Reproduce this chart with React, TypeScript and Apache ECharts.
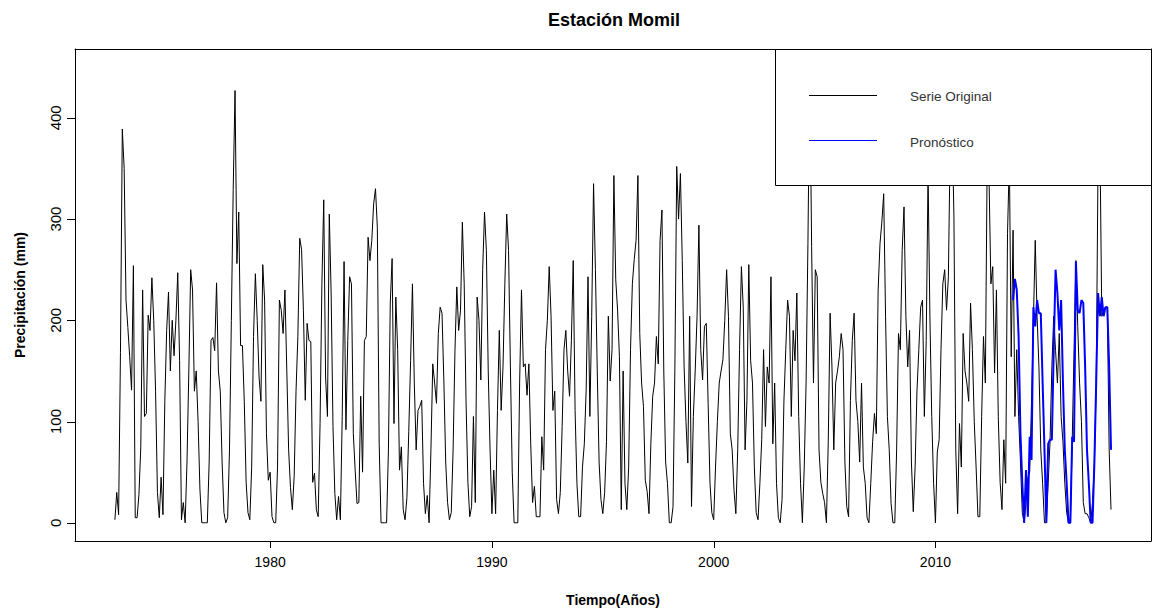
import React, { useEffect, useRef } from "react";
import * as echarts from "echarts";

// Monthly precipitation (mm), Estación Momil, Jan 1973 – Dec 2017
const START_YEAR = 1973;
const serie1973_1979: number[] = [
  3, 30, 8, 168, 389, 350, 220, 193, 164, 131, 254, 5,
  5, 28, 75, 230, 105, 108, 205, 190, 242, 200, 130, 30,
  5, 45, 8, 120, 190, 228, 150, 200, 165, 200, 247, 160,
  3, 20, 0, 60, 150, 250, 230, 130, 150, 100, 33, 0,
  0, 0, 0, 60, 180, 183, 170, 237, 150, 130, 60, 10,
  0, 5, 72, 200, 329, 427, 256, 307, 175, 175, 120, 40,
  10, 3, 55, 184, 246, 200, 144, 120, 255, 220, 88, 42,
];
const serie1980_1989: number[] = [
  50, 6, 0, 0, 55, 220, 210, 187, 230, 151, 72, 35,
  13, 46, 130, 184, 281, 270, 210, 121, 197, 180, 179, 40,
  49, 13, 6, 98, 236, 319, 144, 105, 305, 227, 95, 29,
  3, 26, 3, 105, 258, 92, 180, 243, 236, 88, 52, 19,
  20, 125, 50, 180, 184, 282, 259, 279, 315, 330, 292, 78,
  0, 0, 0, 0, 72, 217, 261, 98, 223, 171, 52, 75,
  13, 3, 25, 90, 160, 236, 138, 72, 111, 115, 121, 39,
  9, 27, 0, 72, 157, 138, 118, 187, 213, 207, 140, 60,
  20, 3, 10, 72, 170, 233, 190, 210, 297, 236, 120, 40,
  6, 16, 105, 20, 223, 200, 141, 250, 307, 269, 150, 72,
];
const serie1990_1999: number[] = [
  9, 52, 9, 111, 190, 111, 154, 236, 305, 269, 154, 50,
  0, 0, 0, 138, 230, 154, 157, 126, 157, 78, 20, 36,
  6, 6, 6, 85, 52, 171, 200, 253, 204, 111, 130, 23,
  9, 30, 95, 171, 190, 150, 125, 180, 259, 111, 39, 6,
  6, 55, 78, 131, 243, 105, 204, 335, 250, 150, 60, 23,
  9, 30, 80, 204, 140, 171, 343, 240, 210, 164, 13, 150,
  39, 13, 55, 171, 236, 260, 279, 343, 187, 138, 115, 42,
  31, 9, 78, 125, 138, 184, 157, 279, 309, 150, 60, 39,
  0, 0, 16, 151, 352, 300, 345, 259, 154, 100, 59, 204,
  16, 105, 150, 204, 294, 171, 141, 194, 197, 118, 39, 10,
];
const serie2000_2009: number[] = [
  3, 55, 100, 138, 150, 161, 200, 250, 204, 88, 72, 32,
  9, 72, 171, 253, 213, 72, 121, 255, 160, 138, 55, 10,
  3, 39, 82, 171, 95, 154, 138, 243, 78, 138, 39, 5,
  0, 23, 120, 171, 220, 204, 105, 190, 160, 227, 105, 39,
  0, 55, 138, 276, 450, 273, 138, 250, 243, 72, 40, 29,
  20, 0, 80, 207, 154, 72, 138, 150, 164, 187, 171, 60,
  16, 6, 121, 180, 207, 121, 100, 60, 138, 55, 39, 5,
  0, 39, 80, 108, 88, 230, 276, 297, 325, 204, 105, 72,
  19, 0, 0, 72, 187, 171, 269, 312, 204, 154, 190, 60,
  11, 55, 130, 171, 213, 220, 105, 180, 345, 204, 105, 39,
];
const serie2010_2017: number[] = [
  0, 70, 82, 171, 236, 250, 210, 243, 380, 400, 302, 72,
  9, 98, 55, 187, 150, 138, 120, 217, 171, 100, 55, 6,
  6, 105, 184, 138, 360, 340, 236, 253, 148, 230, 105, 40,
  13, 82, 39, 286, 360, 164, 289, 105, 171, 105, 60, 10,
  0, 20, 45, 50, 120, 200, 279, 204, 154, 72, 39, 0,
  0, 39, 80, 154, 204, 170, 138, 187, 105, 80, 39, 10,
  0, 0, 80, 171, 259, 194, 138, 100, 20, 9, 9, 5,
  0, 20, 59, 138, 360, 380, 204, 210, 213, 213, 72, 13,
];

// Forecast, Jul 2013 – Dec 2017
const FORECAST_START = 2013 + 6 / 12;
const pronostico: number[] = [
  220, 241, 230, 184, 88, 39,
  0, 52, 6, 85, 62, 213, 194, 220, 207, 207, 138, 72,
  0, 78, 82, 82, 171, 250, 227, 190, 220, 138, 72, 39,
  0, 0, 85, 80, 258, 210, 207, 220, 217, 154, 72, 39,
  0, 0, 59, 140, 227, 204, 223, 204, 213, 213, 154, 72,
];

const xTicks = [1980, 1990, 2000, 2010];
const yTicks = [0, 100, 200, 300, 400];

const X_MIN = 1971.2;
const X_MAX = 2019.72;
const Y_MIN = -18;
const Y_MAX = 468;

const FONT = "'Liberation Sans', Arial, Helvetica, sans-serif";

export default function App() {
  const ref = useRef<HTMLDivElement>(null);

  useEffect(() => {
    if (!ref.current) return;
    const chart = echarts.init(ref.current, null, { renderer: "svg" });
    const serieOriginal = [
      ...serie1973_1979,
      ...serie1980_1989,
      ...serie1990_1999,
      ...serie2000_2009,
      ...serie2010_2017,
    ];
    const orig = serieOriginal.map((v, i) => [START_YEAR + i / 12, v]);
    const fc = pronostico.map((v, i) => [FORECAST_START + i / 12, v]);

    const frameStyle = { color: "#000", width: 1 };

    chart.setOption({
      animation: false,
      backgroundColor: "#ffffff",
      textStyle: { fontFamily: FONT },
      grid: {
        left: 75,
        right: 1,
        top: 49,
        bottom: 72,
        show: false,
        containLabel: false,
      },
      xAxis: [
        {
          type: "value",
          position: "bottom",
          min: X_MIN,
          max: X_MAX,
          axisLine: { show: true, onZero: false, lineStyle: frameStyle },
          splitLine: { show: false },
          axisTick: { show: false },
          axisLabel: {
            show: true,
            customValues: xTicks,
            formatter: (v: number) => String(v),
            margin: 14,
            fontSize: 14,
            color: "#000",
            fontFamily: FONT,
          },
          name: "Tiempo(Años)",
          nameLocation: "middle",
          nameGap: 52,
          nameTextStyle: {
            fontWeight: "bold",
            fontSize: 14,
            color: "#000",
            fontFamily: FONT,
          },
        },
        {
          type: "value",
          position: "top",
          min: X_MIN,
          max: X_MAX,
          axisLine: { show: true, onZero: false, lineStyle: frameStyle },
          splitLine: { show: false },
          axisTick: { show: false },
          axisLabel: { show: false },
        },
      ],
      yAxis: [
        {
          type: "value",
          position: "left",
          min: Y_MIN,
          max: Y_MAX,
          axisLine: { show: true, onZero: false, lineStyle: frameStyle },
          splitLine: { show: false },
          axisTick: { show: false },
          axisLabel: {
            show: true,
            customValues: yTicks,
            formatter: (v: number) => String(v),
            rotate: 90,
            margin: 12,
            fontSize: 15,
            color: "#000",
            fontFamily: FONT,
          },
          name: "Precipitación (mm)",
          nameLocation: "middle",
          nameGap: 48,
          nameTextStyle: {
            fontWeight: "bold",
            fontSize: 14,
            color: "#000",
            fontFamily: FONT,
          },
        },
        {
          type: "value",
          position: "right",
          min: Y_MIN,
          max: Y_MAX,
          axisLine: { show: true, onZero: false, lineStyle: frameStyle },
          splitLine: { show: false },
          axisTick: { show: false },
          axisLabel: { show: false },
        },
      ],
      series: [
        {
          name: "Serie Original",
          type: "line",
          xAxisIndex: 0,
          yAxisIndex: 0,
          data: orig,
          showSymbol: false,
          symbol: "none",
          lineStyle: { color: "#000", width: 1 },
          z: 2,
        },
        {
          name: "Pronóstico",
          type: "line",
          xAxisIndex: 0,
          yAxisIndex: 0,
          data: fc,
          showSymbol: false,
          symbol: "none",
          lineStyle: { color: "#0000ff", width: 2 },
          z: 3,
        },
      ],
    });

    // Tick marks placed through the axes' own scales
    const bottomY = Number(chart.convertToPixel({ yAxisIndex: 0 }, Y_MIN));
    const leftX = Number(chart.convertToPixel({ xAxisIndex: 0 }, X_MIN));
    const by = isFinite(bottomY) ? Math.round(bottomY) : 541;
    const lx = isFinite(leftX) ? Math.round(leftX) : 75;
    const tickEls: any[] = [];
    xTicks.forEach((v, k) => {
      const raw = Number(chart.convertToPixel({ xAxisIndex: 0 }, v));
      const px = Math.round(raw) + 0.5;
      tickEls.push({
        type: "polyline",
        id: "xtick" + k,
        z: 150,
        silent: true,
        shape: { points: [[px, by], [px, by + 7]] },
        style: { stroke: "#000", lineWidth: 1, fill: null },
      });
    });
    yTicks.forEach((v, k) => {
      const raw = Number(chart.convertToPixel({ yAxisIndex: 0 }, v));
      const py = Math.round(raw) + 0.5;
      tickEls.push({
        type: "polyline",
        id: "ytick" + k,
        z: 150,
        silent: true,
        shape: { points: [[lx - 8, py], [lx, py]] },
        style: { stroke: "#000", lineWidth: 1, fill: null },
      });
    });

    chart.setOption({
      graphic: [
        ...tickEls,
        {
          type: "text",
          id: "title",
          z: 100,
          x: 614,
          y: 20,
          style: {
            text: "Estación Momil",
            fontSize: 18,
            fontWeight: "bold",
            fontFamily: FONT,
            fill: "#000",
            align: "center",
            verticalAlign: "middle",
          },
        },
        {
          type: "rect",
          id: "legendBox",
          z: 100,
          shape: { x: 775.5, y: 49.5, width: 376, height: 136 },
          style: { fill: "#fff", stroke: "#000", lineWidth: 1 },
        },
        {
          type: "line",
          id: "legendLine1",
          z: 101,
          shape: { x1: 809, y1: 95.5, x2: 877, y2: 95.5 },
          style: { stroke: "#000", lineWidth: 1 },
        },
        {
          type: "text",
          id: "legendText1",
          z: 101,
          x: 910,
          y: 96,
          style: {
            text: "Serie Original",
            fontSize: 13.5,
            fontFamily: FONT,
            fill: "#333",
            align: "left",
            verticalAlign: "middle",
          },
        },
        {
          type: "line",
          id: "legendLine2",
          z: 101,
          shape: { x1: 809, y1: 140.5, x2: 877, y2: 140.5 },
          style: { stroke: "#0000ff", lineWidth: 1 },
        },
        {
          type: "text",
          id: "legendText2",
          z: 101,
          x: 910,
          y: 142,
          style: {
            text: "Pronóstico",
            fontSize: 13.5,
            fontFamily: FONT,
            fill: "#333",
            align: "left",
            verticalAlign: "middle",
          },
        },
      ],
    });

    return () => chart.dispose();
  }, []);

  return (
    <div
      ref={ref}
      style={{ position: "fixed", left: 0, top: 0, width: 1152, height: 613 }}
    />
  );
}
